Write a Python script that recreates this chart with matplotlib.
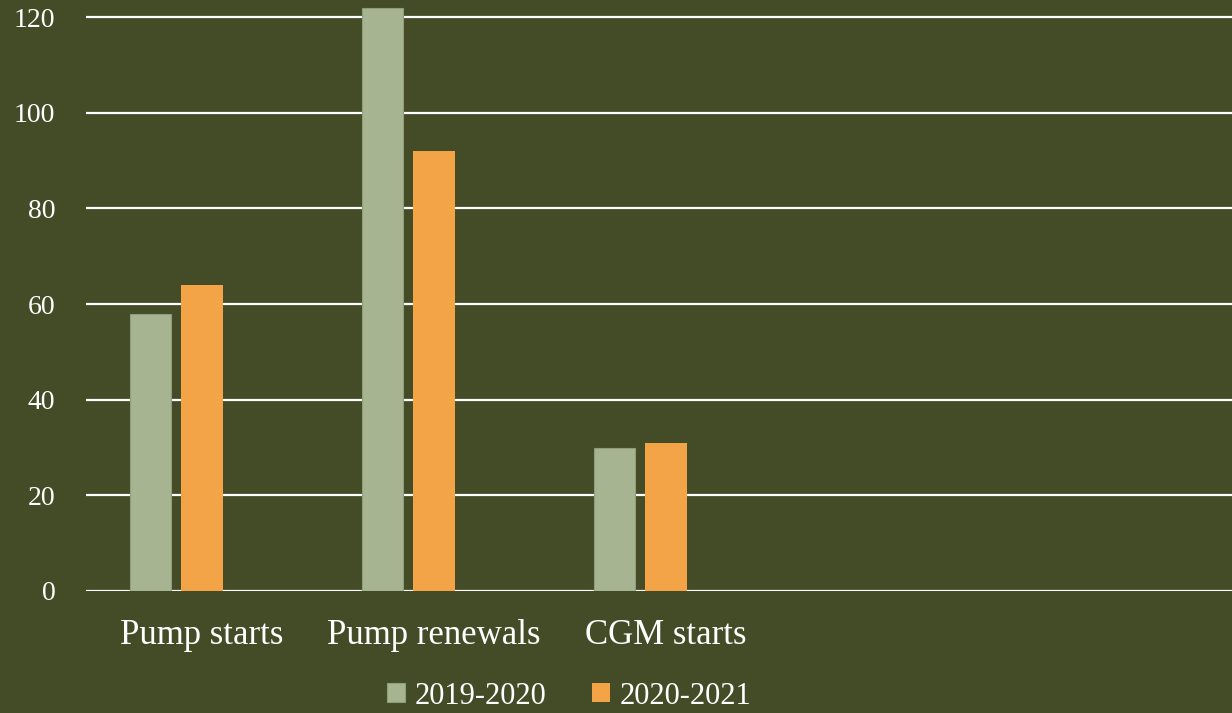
import numpy as np
import matplotlib.pyplot as plt

# Data
categories = ["Pump starts", "Pump renewals", "CGM starts"]
series_names = ["2019-2020", "2020-2021"]
values_2019 = [58, 122, 30]
values_2020 = [64, 92, 31]

bg = "#444C27"
green = "#A6B492"
orange = "#F2A446"

plt.rcParams['font.family'] = ['Liberation Serif', 'DejaVu Serif']

fig = plt.figure(figsize=(12.32, 7.13), dpi=100, facecolor=bg)
ax = fig.add_axes([86 / 1232, 122 / 713, 1 - 86 / 1232, 1 - 122 / 713])
ax.set_facecolor(bg)

x = np.arange(len(categories))
width = 0.177
b1 = ax.bar(x - 0.222, values_2019, width, color=green, edgecolor="#8E9E78",
            linewidth=0.8, label=series_names[0], zorder=3)
b2 = ax.bar(x, values_2020, width, color=orange, label=series_names[1], zorder=3)

ax.set_xlim(-0.5, -0.5 + 1146 / 232)
ax.set_ylim(0, 123.6)
ax.set_yticks(np.arange(0, 121, 20))
ax.set_xticks(x)
ax.set_xticklabels(categories)

ax.grid(axis="y", color="white", linewidth=1.6, zorder=1)
ax.set_axisbelow(True)
for s in ax.spines.values():
    s.set_visible(False)
ax.tick_params(axis="both", length=0, colors="white")
ax.tick_params(axis="x", labelsize=25, pad=20)
ax.tick_params(axis="y", labelsize=20, pad=22)

leg = fig.legend(handles=[b1, b2], labels=series_names, loc="center",
                 bbox_to_anchor=(569 / 1232, 17 / 713), ncol=2, frameon=False,
                 fontsize=22, labelcolor="white", handlelength=0.6,
                 handleheight=0.6, handletextpad=0.3, columnspacing=1.5)

fig.savefig("out.png", dpi=100, facecolor=bg)
